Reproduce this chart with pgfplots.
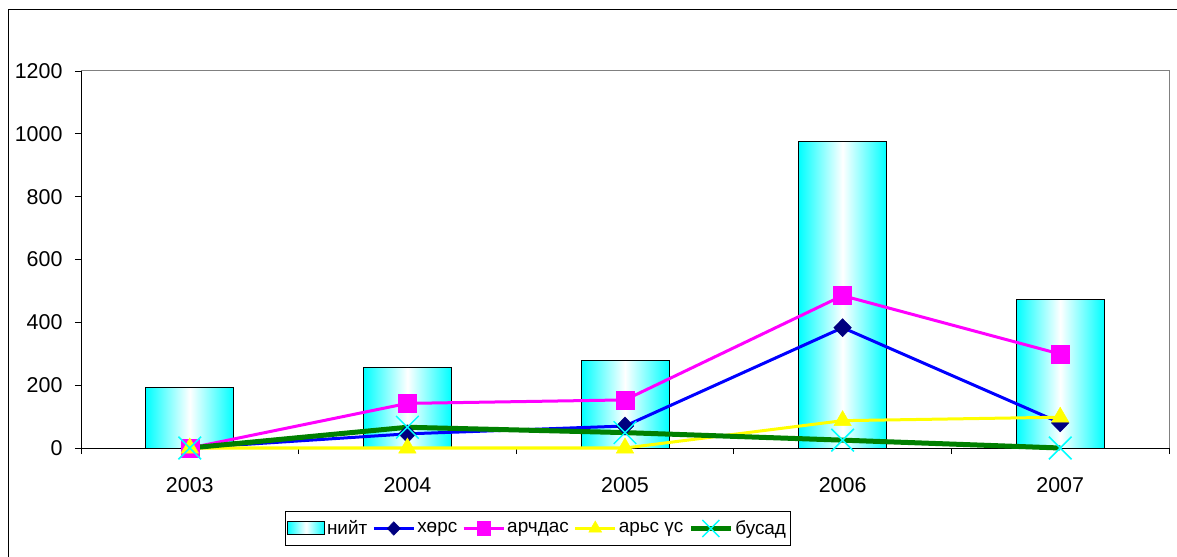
\documentclass[border=0pt]{standalone}
\usepackage{pgfplots}
\pgfplotsset{compat=1.18}
\usepackage{fontspec}
\setmainfont{Liberation Sans}
\definecolor{navyc}{RGB}{0,0,128}
\definecolor{greenc}{RGB}{0,128,0}
\definecolor{cyanc}{RGB}{0,255,255}
\definecolor{yellowc}{RGB}{255,255,0}
\definecolor{magentac}{RGB}{255,0,255}
\definecolor{bluec}{RGB}{0,0,255}
\pgfplotsset{
  barleg/.style={legend image code/.code={\draw[##1] (0bp,-6.5bp) rectangle (37bp,6.5bp);}},
  lineleg/.style={legend image code/.code={\draw[mark repeat=2,mark phase=2,##1] plot coordinates {(0bp,0bp) (20bp,0bp) (40bp,0bp)};}},
  cylbar/.style={ybar, bar width=88bp, draw=black, line width=1bp,
    left color=cyanc, right color=cyanc, middle color=white},
}
\begin{document}
\begin{tikzpicture}
\useasboundingbox (0,0) rectangle (1177bp,557bp);
\draw[black, line width=1bp] (8bp,-10bp) -- (8bp,547bp) -- (1190bp,547bp);
\begin{axis}[
  at={(81bp,109bp)}, anchor=south west,
  scale only axis, width=1088bp, height=377bp,
  xmin=-0.5, xmax=4.5, ymin=0, ymax=1200,
  ytick={0,200,...,1200},
  xtick={0,...,4}, xticklabels={2003,2004,2005,2006,2007},
  minor xtick={-0.5,0.5,...,4.5},
  axis x line*=bottom, axis y line*=left,
  tick align=outside, major tick length=6bp, minor tick length=6bp,
  major x tick style={draw=none},
  axis line style={black, line width=0.8bp},
  every tick/.style={black, line width=0.8bp},
  ticklabel style={font=\fontsize{21.5}{25}\selectfont},
  xticklabel style={yshift=-20bp},
  yticklabel style={xshift=-9bp},
  /pgf/number format/assume math mode=true,
  /pgf/number format/1000 sep={},
  clip=false,
  legend columns=5,
  legend style={at={(0.4196,-0.2135)}, anchor=center, draw=black, line width=0.8bp,
    font=\fontsize{19}{22}\selectfont, inner xsep=2bp, inner ysep=7bp,
    /tikz/every even column/.append style={column sep=3bp},
    /tikz/every odd column/.append style={column sep=0bp}},
  legend cell align=left,
  every legend image post/.style={/tikz/every mark/.append style={scale=0.75}},
]
\draw[gray, line width=1bp] (rel axis cs:0,1) -- (rel axis cs:1,1) -- (rel axis cs:1,0);
\draw[gray, line width=1bp] (rel axis cs:0,1) -- ++(-6bp,0);
\addplot[cylbar, barleg] coordinates {(0,192)};
\addlegendentry{нийт}
\addplot[cylbar, forget plot] coordinates {(1,257)};
\addplot[cylbar, forget plot] coordinates {(2,278)};
\addplot[cylbar, forget plot] coordinates {(3,975)};
\addplot[cylbar, forget plot] coordinates {(4,474)};
\addplot[bluec, line width=3bp, mark=diamond*, mark size=9bp,
  mark options={fill=navyc, draw=navyc, line width=0.5bp, xscale=1.3}, lineleg]
  coordinates {(0,0) (1,45) (2,70) (3,383) (4,80)};
\addlegendentry{хөрс}
\addplot[magentac, line width=3bp, mark=square*, mark size=9bp,
  mark options={fill=magentac, draw=magentac, line width=0.5bp}, lineleg]
  coordinates {(0,0) (1,142) (2,153) (3,485) (4,299)};
\addlegendentry{арчдас}
\addplot[yellowc, line width=3bp, mark=triangle*, mark size=10bp,
  mark options={fill=yellowc, draw=yellowc, line width=0.5bp}, lineleg]
  coordinates {(0,0) (1,0) (2,0) (3,87) (4,98)};
\addlegendentry{арьс үс}
\addplot[greenc, line width=5bp, mark=x, mark size=16bp,
  mark options={draw=cyanc, line width=1.5bp}, lineleg]
  coordinates {(0,0) (1,66) (2,49) (3,25) (4,0)};
\addlegendentry{бусад}
\end{axis}
\end{tikzpicture}
\end{document}
